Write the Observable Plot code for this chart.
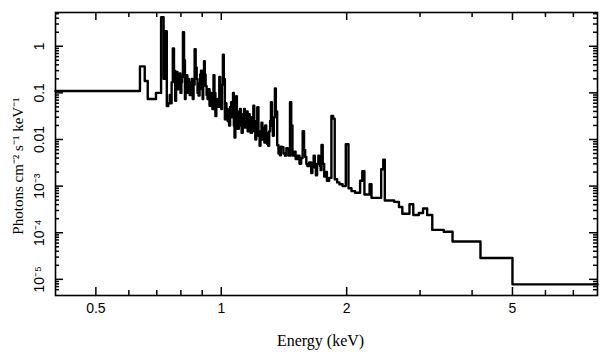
<!DOCTYPE html>
<html><head><meta charset="utf-8">
<script src="https://cdn.jsdelivr.net/npm/d3@7"></script>
<script src="https://cdn.jsdelivr.net/npm/@observablehq/plot@0.6"></script>
<style>body{margin:0;background:#fff}</style>
</head><body><div id="chart"></div>
<script>
// Bin edges (keV) and flux per bin (photons cm^-2 s^-1 keV^-1)
const binEdges = [
0.40, 0.638, 0.655, 0.666, 0.697, 0.717, 0.727, 0.733,
0.740, 0.746, 0.752, 0.757, 0.760, 0.765, 0.770, 0.775, 0.779, 0.782,
0.785, 0.788, 0.791, 0.795, 0.798, 0.802, 0.805, 0.809, 0.814, 0.818,
0.821, 0.825, 0.829, 0.832, 0.836, 0.840, 0.845, 0.849, 0.854, 0.858,
0.863, 0.868, 0.873, 0.877, 0.882, 0.887, 0.890, 0.894, 0.898, 0.902,
0.905, 0.909, 0.913, 0.917, 0.922, 0.927, 0.932, 0.937, 0.942, 0.947,
0.952, 0.958, 0.963, 0.968, 0.973, 0.979, 0.984, 0.989, 0.994, 1.000,
1.004, 1.009, 1.014, 1.020, 1.025, 1.029, 1.036, 1.044, 1.050, 1.056,
1.062, 1.067, 1.072, 1.076, 1.081, 1.086, 1.090, 1.095, 1.102, 1.109,
1.114, 1.119, 1.126, 1.134, 1.139, 1.144, 1.150, 1.157, 1.163, 1.170,
1.176, 1.185, 1.194, 1.200, 1.207, 1.213, 1.220, 1.228, 1.236, 1.242,
1.249, 1.255, 1.262, 1.269, 1.275, 1.282, 1.289, 1.296, 1.303, 1.310,
1.316, 1.323, 1.330, 1.337, 1.345, 1.352,
1.362, 1.372, 1.383, 1.390, 1.398, 1.410, 1.422, 1.433, 1.444, 1.453,
1.462, 1.472, 1.482, 1.495, 1.508, 1.525, 1.541, 1.555, 1.568, 1.580,
1.590, 1.600, 1.609, 1.625, 1.644, 1.655, 1.666, 1.677, 1.687, 1.698,
1.710, 1.718, 1.725, 1.732, 1.740, 1.752, 1.766, 1.780, 1.793, 1.815,
1.838, 1.856, 1.872, 1.897, 1.921, 1.955, 1.990,
2.020, 2.054, 2.095, 2.154, 2.180, 2.206, 2.240, 2.270, 2.294, 2.420,
2.448, 2.469, 2.600, 2.670, 2.720, 2.830, 2.890, 2.980, 3.050, 3.120,
3.210, 3.420, 3.590, 4.190, 5.000, 8.0];
const binValues = [
0.11, 0.37, 0.18, 0.074, 0.10, 4.2, 0.2, 2.1,
0.052, 0.06, 0.09, 0.06, 0.17, 0.9, 0.3, 0.068, 0.18, 0.28,
0.12, 0.14, 0.2, 0.26, 0.1, 0.17, 0.22, 2.0, 0.5, 0.074,
0.13, 0.24, 0.1, 0.2, 0.17, 0.09, 0.12, 0.2, 0.074, 0.15,
0.87, 0.35, 0.2, 0.1, 0.088, 0.16, 0.25, 0.3, 0.12, 0.074,
0.2, 0.48, 0.25, 0.14, 0.09, 0.074, 0.12, 0.053, 0.1, 0.08,
0.045, 0.24, 0.1, 0.032, 0.06, 0.074, 0.05, 0.22, 0.07, 0.045,
0.15, 0.66, 0.2, 0.027, 0.06, 0.045, 0.025, 0.02, 0.05, 0.063,
0.03, 0.1, 0.02, 0.011, 0.04, 0.085, 0.03, 0.017, 0.04, 0.045,
0.02, 0.014, 0.035, 0.045, 0.018, 0.02, 0.04, 0.015, 0.035, 0.02,
0.014, 0.03, 0.053, 0.015, 0.01, 0.025, 0.049, 0.012, 0.0073, 0.015,
0.023, 0.01, 0.018, 0.0086, 0.02, 0.014, 0.008, 0.0073, 0.015, 0.025,
0.063, 0.02, 0.012, 0.03, 0.125, 0.04,
0.0075, 0.005, 0.0046, 0.007, 0.0068, 0.005, 0.0045, 0.0065, 0.0062, 0.0045,
0.063, 0.02, 0.0045, 0.0055, 0.0038, 0.0045, 0.003, 0.004, 0.015, 0.006,
0.0042, 0.003, 0.0027, 0.0032, 0.0019, 0.0028, 0.0045, 0.0025, 0.0017, 0.003,
0.0045, 0.003, 0.0027, 0.0022, 0.0076, 0.003, 0.0016, 0.002, 0.0013, 0.0015,
0.032, 0.028, 0.0014, 0.0012, 0.0011, 0.001, 0.0079,
0.0009, 0.00078, 0.00072, 0.0013, 0.0021, 0.00066, 0.00066, 0.0011, 0.00056, 0.0023,
0.0037, 0.00049, 0.00046, 0.000355, 0.000255, 0.000407, 0.00024, 0.000265, 0.00033, 0.00024,
0.000115, 0.000105, 0.000065, 0.0000287, 0.0000078];

const xMajorTicks = [0.5, 1, 2, 5];
const xTickLabels = ["0.5", "1", "2", "5"];
const xMinorTicks = [0.6, 0.7, 0.8, 0.9, 3, 4, 6, 7];
const yMajorTicks = [1e-5, 1e-4, 1e-3, 0.01, 0.1, 1];
const yTickLabels = ["10⁻⁵", "10⁻⁴", "10⁻³", "0.01", "0.1", "1"];
const yMinorTicks = [
  6e-6, 7e-6, 8e-6, 9e-6,
  2e-5, 3e-5, 4e-5, 5e-5, 6e-5, 7e-5, 8e-5, 9e-5,
  2e-4, 3e-4, 4e-4, 5e-4, 6e-4, 7e-4, 8e-4, 9e-4,
  0.002, 0.003, 0.004, 0.005, 0.006, 0.007, 0.008, 0.009,
  0.02, 0.03, 0.04, 0.05, 0.06, 0.07, 0.08, 0.09,
  0.2, 0.3, 0.4, 0.5, 0.6, 0.7, 0.8, 0.9,
  2, 3, 4, 5];
const xTitle = "Energy (keV)";
const yTitle = "Photons cm⁻² s⁻¹ keV⁻¹";

const xDomain = [0.4, 8];
const yDomain = [4.5e-6, 5.3];

const fh = 283, fw = 542;
const steps = binEdges.map((e, i) => ({energy: e, flux: binValues[Math.min(i, binValues.length - 1)]}));

const sans = "Liberation Sans, Arial, sans-serif";
const serif = "Liberation Serif, Times New Roman, serif";
const tk = {stroke: "black", strokeWidth: 1.5};

const chart = Plot.plot({
  width: 609, height: 357,
  marginLeft: 55, marginRight: 12, marginTop: 12, marginBottom: 62,
  x: {type: "log", domain: xDomain, axis: null},
  y: {type: "log", domain: yDomain, axis: null},
  marks: [
    Plot.line(steps, {x: "energy", y: "flux", curve: "step-after", stroke: "black", strokeWidth: 2.4}),
    Plot.frame({stroke: "black", strokeWidth: 1.6}),
    Plot.tickX(xMajorTicks, {x: d => d, insetTop: fh - 8, ...tk}),
    Plot.tickX(xMinorTicks, {x: d => d, insetTop: fh - 5, ...tk}),
    Plot.tickX(xMajorTicks, {x: d => d, insetBottom: fh - 8, ...tk}),
    Plot.tickX(xMinorTicks, {x: d => d, insetBottom: fh - 5, ...tk}),
    Plot.tickY(yMajorTicks, {y: d => d, insetRight: fw - 8, ...tk}),
    Plot.tickY(yMinorTicks, {y: d => d, insetRight: fw - 4, ...tk}),
    Plot.tickY(yMajorTicks, {y: d => d, insetLeft: fw - 8, ...tk}),
    Plot.tickY(yMinorTicks, {y: d => d, insetLeft: fw - 4, ...tk}),
    Plot.text(xMajorTicks, {x: d => d, text: (d, i) => xTickLabels[i], frameAnchor: "bottom", dy: 13, lineAnchor: "middle", fontSize: 14, fontFamily: sans, fill: "black"}),
    Plot.text(yMajorTicks, {y: d => d, text: (d, i) => yTickLabels[i], frameAnchor: "left", dx: -16, rotate: -90, textAnchor: "middle", lineAnchor: "middle", fontSize: 14, fontFamily: sans, fill: "black"}),
    Plot.text([xTitle], {frameAnchor: "bottom", dx: -6, dy: 45, lineAnchor: "middle", fontSize: 16, fontFamily: serif, fill: "black"}),
    Plot.text([yTitle], {frameAnchor: "left", dx: -37, dy: 12, rotate: -90, textAnchor: "middle", lineAnchor: "middle", fontSize: 15, fontFamily: serif, fill: "black"})
  ]
});
document.getElementById("chart").appendChild(chart);
</script>
</body></html>
